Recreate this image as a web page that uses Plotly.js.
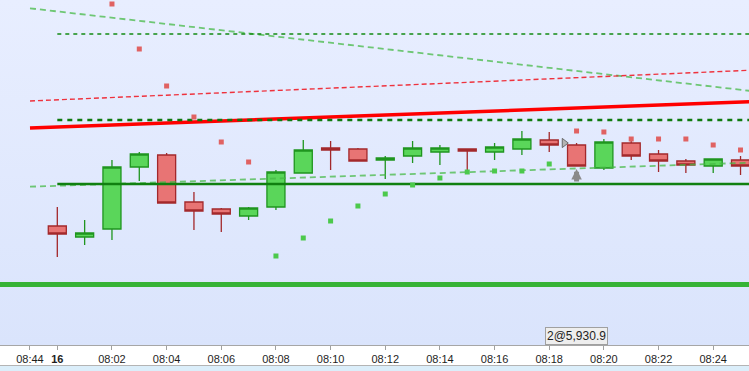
<!DOCTYPE html>
<html>
<head>
<meta charset="utf-8">
<script src="https://cdn.plot.ly/plotly-3.0.1.min.js"></script>
<style>
  html, body { margin: 0; padding: 0; background: #ffffff; }
  #chart { width: 749px; height: 371px; }
</style>
</head>
<body>
<div id="chart"></div>
<script>
// ---- bar index (0 = 08:00 on day 16, one bar per minute) ----
const barIndex = [0,1,2,3,4,5,6,7,8,9,10,11,12,13,14,15,16,17,18,19,20,21,22,23,24,25];
const opens  = [5924.9,5923.8,5924.6,5930.8,5932.0,5927.3,5926.6,5925.9,5926.8,5930.2,5932.7,5932.6,5931.5,5931.9,5932.3,5932.6,5932.3,5932.6,5933.5,5933.0,5930.7,5933.2,5932.1,5931.4,5930.9,5931.5];
const highs  = [5926.8,5925.5,5931.5,5932.3,5932.2,5928.3,5926.7,5926.8,5930.5,5933.5,5933.4,5932.7,5931.9,5933.4,5933.0,5932.6,5933.2,5934.4,5934.3,5933.2,5933.6,5933.4,5932.5,5931.6,5931.6,5931.9];
const lows   = [5921.8,5923.0,5923.5,5929.4,5927.2,5924.5,5924.3,5925.5,5926.5,5930.2,5930.5,5931.4,5929.6,5931.2,5931.0,5930.3,5931.5,5932.0,5932.3,5930.9,5930.5,5931.5,5930.3,5930.2,5930.2,5930.0];
const closes = [5924.1,5924.2,5930.8,5932.1,5927.2,5926.4,5926.1,5926.7,5930.3,5932.5,5932.5,5931.4,5931.7,5932.7,5932.7,5932.4,5932.8,5933.6,5933.0,5930.9,5933.3,5931.9,5931.4,5931.0,5931.6,5930.9];

// ---- parabolic SAR style dots ----
const sarUpX   = [2,3,4,5,6,7,19,20,21,22,23,24,25];
const sarUpY   = [5947.1,5942.6,5938.9,5935.8,5933.3,5931.3,5934.4,5934.3,5933.6,5933.6,5933.6,5933.0,5932.5];
const sarDownX = [8,9,10,11,12,13,14,15,16,17,18];
const sarDownY = [5921.9,5923.7,5925.4,5926.9,5928.1,5929.0,5929.7,5930.3,5930.4,5930.4,5931.1];

// ---- drawn lines (x in bar index, y in price) ----
const trendX       = [-1, 26];
const redSolidY    = [5934.7, 5937.4];
const redDashY     = [5937.4, 5940.55];
const greenDownY   = [5946.67, 5938.21];
const greenUpLowY  = [5928.83, 5931.29];
const levelX       = [0, 26];
const levelTopY    = [5944.1, 5944.1];
const levelMidY    = [5935.5, 5935.5];
const levelLowY    = [5929.1, 5929.1];
const supportX     = [-3, 27];
const supportY     = [5919.05, 5919.05];

// ---- trade / signal ----
const tradeX = 19, tradeQty = 2, tradePrice = 5930.9;
const signalX = [18.55], signalY = [5933.2];

// ---- axis ticks ----
const tickVals  = [-1,0,2,4,6,8,10,12,14,16,18,20,22,24];
const tickTexts = ['08:44','<b>16</b>','08:02','08:04','08:06','08:08','08:10','08:12','08:14','08:16','08:18','08:20','08:22','08:24'];

const H = 345; // plot height in px
const py = p => (H - p) / H; // pixel row below plot top -> paper y

function lineTrace(x, y, color, width, dash) {
  return {type:'scatter', mode:'lines', x:x, y:y, hoverinfo:'skip', showlegend:false,
          line:{color:color, width:width, dash:dash}};
}

const traces = [
  {type:'candlestick', x:barIndex, open:opens, high:highs, low:lows, close:closes,
   hoverinfo:'skip', showlegend:false, whiskerwidth:0,
   increasing:{fillcolor:'#5ad65a', line:{color:'#1f951f', width:1.3}},
   decreasing:{fillcolor:'#e87474', line:{color:'#a3282b', width:1.3}}},
  lineTrace(supportX, supportY, '#36b336', 5, 'solid'),
  lineTrace(trendX, greenDownY, 'rgba(70,185,70,0.75)', 1.8, '6px,4px'),
  lineTrace(trendX, greenUpLowY, 'rgba(70,185,70,0.75)', 1.8, '6px,4px'),
  lineTrace(trendX, redDashY, 'rgba(240,30,40,0.9)', 1.4, '5px,3px'),
  lineTrace(trendX, redSolidY, '#ff0000', 3.5, 'solid'),
  lineTrace(levelX, levelTopY, '#138a13', 1.4, '4px,4px'),
  lineTrace(levelX, levelMidY, '#0f7a0f', 2.6, '5px,5px'),
  lineTrace(levelX, levelLowY, '#108010', 2.6, 'solid'),
  {type:'scatter', mode:'markers', x:sarUpX, y:sarUpY, hoverinfo:'skip', showlegend:false,
   marker:{symbol:'square', size:5, color:'#e06262'}},
  {type:'scatter', mode:'markers', x:sarDownX, y:sarDownY, hoverinfo:'skip', showlegend:false,
   marker:{symbol:'square', size:5, color:'#4cc94c'}},
  {type:'scatter', mode:'markers', x:signalX, y:signalY, hoverinfo:'skip', showlegend:false,
   marker:{symbol:'triangle-right', size:8, color:'#b4b4b4', line:{color:'#6a6a6a', width:1}}}
];

const bgSvg = "<svg xmlns='http://www.w3.org/2000/svg' width='10' height='100' preserveAspectRatio='none'>" +
  "<defs><linearGradient id='g' x1='0' y1='0' x2='0' y2='1'>" +
  "<stop offset='0' stop-color='#e8eeff'/><stop offset='1' stop-color='#dae4fc'/>" +
  "</linearGradient></defs><rect width='10' height='100' fill='url(#g)'/></svg>";

const layout = {
  width: 749, height: 371,
  margin: {l:0, r:0, t:0, b:26, pad:0},
  paper_bgcolor: '#ffffff',
  plot_bgcolor: 'rgba(0,0,0,0)',
  boxgap: 0.34, boxgroupgap: 0,
  showlegend: false,
  dragmode: false,
  font: {family: '"Liberation Sans", Arial, sans-serif', size: 11, color: '#1e1e1e'},
  xaxis: {
    type: 'linear', range: [-2.097, 25.31], fixedrange: true,
    rangeslider: {visible: false},
    showgrid: false, zeroline: false,
    showline: true, linecolor: '#a6a6a6', linewidth: 1,
    ticks: 'outside', ticklen: 4, tickcolor: '#a0a0a0', tickwidth: 1,
    tickvals: tickVals, ticktext: tickTexts,
    tickfont: {family: '"Liberation Sans", Arial, sans-serif', size: 11, color: '#1e1e1e'}
  },
  yaxis: {range: [5913.0, 5947.5], visible: false, fixedrange: true, showgrid: false, zeroline: false},
  images: [{
    source: 'data:image/svg+xml;utf8,' + encodeURIComponent(bgSvg),
    xref: 'paper', yref: 'paper', x: 0, y: 1, sizex: 1, sizey: 1,
    sizing: 'stretch', xanchor: 'left', yanchor: 'top', layer: 'below'
  }],
  shapes: [
    {type:'line', xref:'paper', yref:'paper', x0:0, x1:1, y0:py(365.5), y1:py(365.5),
     line:{color:'#b4b4b4', width:1}},
    {type:'rect', xref:'paper', yref:'paper', x0:0, x1:1, y0:py(366), y1:py(372),
     fillcolor:'#dbeefa', line:{width:0}}
  ],
  annotations: [
    {x: tradeX, y: tradePrice, xref:'x', yref:'y', text:'', showarrow:true,
     ax: 0, ay: 17, axref:'pixel', ayref:'pixel', standoff: 3,
     arrowhead: 2, arrowsize: 0.42, arrowwidth: 5, arrowcolor:'#8a8a8a'},
    {x: tradeX, y: 0, xref:'x', yref:'paper', yanchor:'bottom', xanchor:'center',
     text: tradeQty + '@' + tradePrice.toLocaleString('en-US', {minimumFractionDigits:1}),
     showarrow:false, bgcolor:'#eeeeee', bordercolor:'#a0a0a0', borderwidth:1, borderpad:1,
     font:{family:'"Liberation Sans", Arial, sans-serif', size:12, color:'#1e1e1e'}}
  ]
};

Plotly.newPlot('chart', traces, layout, {displayModeBar:false, staticPlot:true});
</script>
</body>
</html>
